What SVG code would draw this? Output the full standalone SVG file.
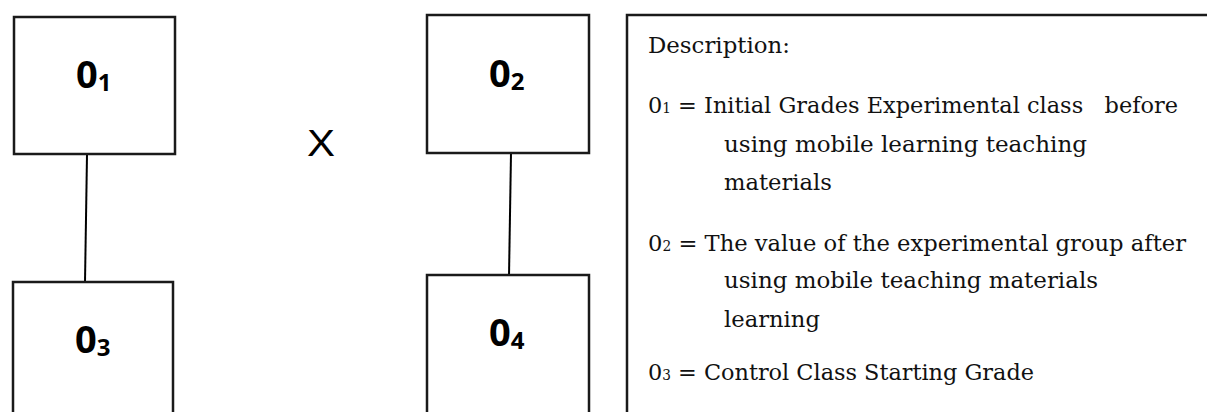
<svg xmlns="http://www.w3.org/2000/svg" width="1207" height="412" viewBox="0 0 1207 412">
<style>
.box{fill:#fff;stroke:#1a1a1a;stroke-width:2.5}
.lbl{font-family:"Open Sans","Liberation Sans",sans-serif;font-weight:bold;font-size:38px;fill:#000}
.sub{font-size:24px}
.conn{stroke:#000;stroke-width:2;fill:none}
.desc{font-family:"DejaVu Serif","Liberation Serif",serif;font-size:23px;fill:#111}
.dsub{font-size:14px}
</style>
<rect width="1207" height="412" fill="#fff"/>
<g id="connectors">
<line class="conn" x1="87" y1="155" x2="85" y2="282"/>
<line class="conn" x1="511" y1="153" x2="509" y2="276"/>
</g>
<g id="node-o1">
<rect class="box" x="14" y="17" width="161" height="137"/>
<text class="lbl" x="76" y="88">0<tspan class="sub" dy="3">1</tspan></text>
</g>
<g id="node-o3">
<rect class="box" x="13" y="282" width="160" height="140"/>
<text class="lbl" x="75" y="353">0<tspan class="sub" dy="3">3</tspan></text>
</g>
<g id="node-o2">
<rect class="box" x="427" y="15" width="162" height="138"/>
<text class="lbl" x="489" y="87">0<tspan class="sub" dy="3">2</tspan></text>
</g>
<g id="node-o4">
<rect class="box" x="427" y="275" width="162" height="147"/>
<text class="lbl" x="489" y="346">0<tspan class="sub" dy="3">4</tspan></text>
</g>
<text x="307" y="156" textLength="28" lengthAdjust="spacingAndGlyphs" font-family="Liberation Sans,sans-serif" font-size="36" fill="#000">X</text>
<g id="description">
<rect class="box" x="627" y="15" width="600" height="420"/>
<text class="desc" x="648" y="53" textLength="142" lengthAdjust="spacingAndGlyphs">Description:</text>
<text class="desc" x="648" y="113" textLength="530" lengthAdjust="spacingAndGlyphs" xml:space="preserve">0<tspan class="dsub">1</tspan> = Initial Grades Experimental class   before</text>
<text class="desc" x="724" y="152" textLength="363" lengthAdjust="spacingAndGlyphs">using mobile learning teaching</text>
<text class="desc" x="724" y="190" textLength="108" lengthAdjust="spacingAndGlyphs">materials</text>
<text class="desc" x="648" y="251" textLength="538" lengthAdjust="spacingAndGlyphs">0<tspan class="dsub">2</tspan> = The value of the experimental group after</text>
<text class="desc" x="724" y="288" textLength="374" lengthAdjust="spacingAndGlyphs">using mobile teaching materials</text>
<text class="desc" x="724" y="327" textLength="96" lengthAdjust="spacingAndGlyphs">learning</text>
<text class="desc" x="648" y="380" textLength="386" lengthAdjust="spacingAndGlyphs">0<tspan class="dsub">3</tspan> = Control Class Starting Grade</text>
</g>
</svg>
